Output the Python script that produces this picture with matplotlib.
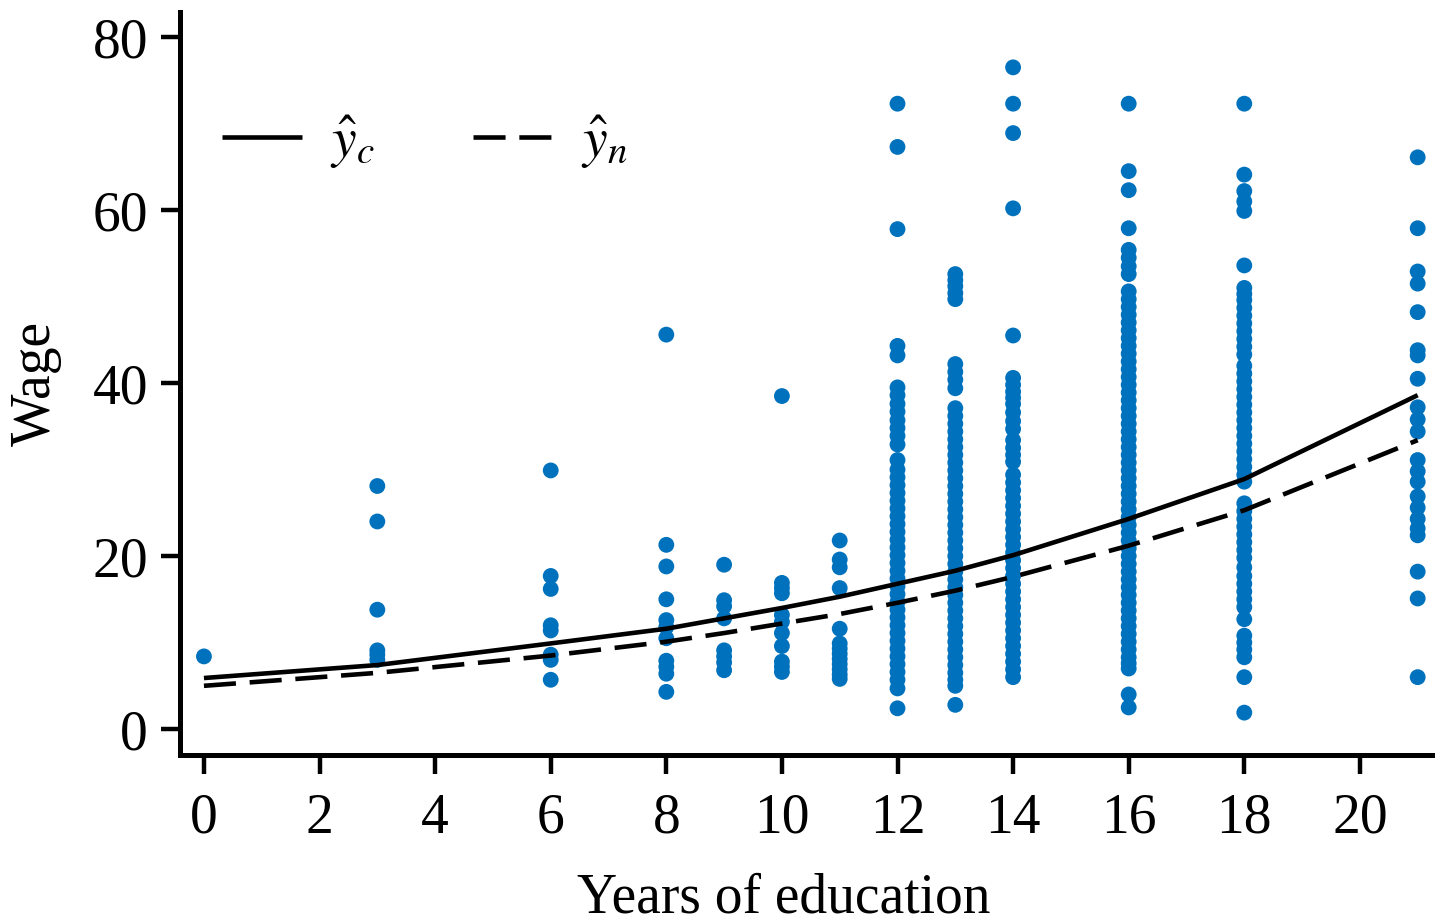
import matplotlib
matplotlib.use("Agg")
import matplotlib.pyplot as plt

plt.rcParams['font.family'] = ['Liberation Serif', 'DejaVu Serif']
plt.rcParams['mathtext.fontset'] = 'stix'

# ---- data ----
educ_levels = [0, 3, 6, 8, 9, 10, 11, 12, 13, 14, 16, 18, 21]

wage_0 = [8.4]
wage_3 = [28.1, 24.0, 13.8, 9.1, 8.6, 8.0]
wage_6 = [29.9, 17.7, 16.2, 12.0, 11.4, 8.6, 8.0, 5.7]
wage_8 = [45.6, 21.3, 18.8, 15.0, 12.6, 11.8, 10.5, 7.9, 7.2, 6.4, 4.3]
wage_9 = [19.0, 14.9, 14.2, 12.8, 9.1, 8.4, 7.7, 6.8]
wage_10 = [38.5, 16.9, 16.3, 15.7, 13.2, 12.4, 11.1, 9.6, 7.8, 7.2, 6.6]
wage_11 = [21.8, 19.6, 18.7, 16.3, 11.6, 9.9, 9.3, 8.7, 8.1, 7.5, 6.9, 6.3, 5.8]
wage_12 = [72.3, 67.3, 57.8, 44.3, 43.2, 39.5, 38.6, 37.6, 36.7, 35.7, 34.8, 33.9,
           32.9, 31.1, 30.0, 29.1, 28.2, 27.3, 26.4, 25.5, 24.6, 23.7, 22.8, 21.9,
           21.0, 20.1, 19.2, 18.3, 17.4, 16.5, 15.6, 14.7, 13.8, 12.9, 12.0, 11.1,
           10.2, 9.3, 8.4, 7.5, 6.6, 5.7, 4.7, 2.4]
wage_13 = [52.6, 51.9, 51.2, 50.4, 49.7, 42.2, 41.3, 40.4, 39.4, 37.1, 36.2, 35.3,
           34.4, 33.5, 32.6, 31.7, 30.8, 29.9, 29.0, 28.1, 27.2, 26.3, 25.4, 24.5,
           23.6, 22.7, 21.8, 20.9, 20.0, 19.1, 18.2, 17.3, 16.4, 15.5, 14.6, 13.7,
           12.8, 11.9, 11.0, 10.1, 9.2, 8.3, 7.4, 6.5, 5.7, 5.0, 2.8]
wage_14 = [76.5, 72.3, 68.9, 60.2, 45.5, 40.6, 39.8, 39.0, 38.3, 37.6, 36.6, 35.6,
           34.7, 33.4, 32.5, 31.7, 30.9, 29.4, 28.5, 27.6, 26.7, 25.8, 24.9, 24.0,
           23.1, 22.2, 21.3, 20.4, 19.5, 18.6, 17.7, 16.8, 15.9, 15.0, 14.1, 13.2,
           12.3, 11.4, 10.5, 9.6, 8.7, 7.8, 6.9, 6.0]
wage_16 = [72.3, 64.5, 62.3, 57.9, 55.4, 54.5, 53.5, 52.6, 50.6, 49.7, 48.8, 47.9,
           47.0, 46.1, 45.2, 44.3, 43.4, 42.5, 41.6, 40.7, 39.8, 38.9, 38.0, 37.1,
           36.2, 35.3, 34.4, 33.5, 32.6, 31.7, 30.8, 29.9, 29.0, 28.1, 27.2, 26.3,
           25.4, 24.5, 23.6, 22.7, 21.8, 20.9, 20.0, 19.1, 18.2, 17.3, 16.4, 15.5,
           14.6, 13.7, 12.8, 11.9, 11.0, 10.1, 9.2, 8.3, 7.6, 7.0, 4.0, 2.5]
wage_18 = [72.3, 64.1, 62.2, 61.0, 59.9, 53.6, 51.0, 50.3, 49.6, 48.7, 47.8, 46.9,
           46.0, 45.1, 44.2, 43.3, 42.0, 41.1, 40.2, 39.3, 38.4, 37.5, 36.6, 35.7,
           34.8, 33.9, 33.0, 32.1, 31.2, 30.3, 29.4, 28.6, 26.1, 25.2, 24.3, 23.4,
           22.5, 21.6, 20.7, 19.8, 18.7, 17.7, 16.8, 15.9, 15.0, 14.1, 12.7, 10.8,
           10.0, 9.2, 8.3, 6.0, 1.9]
wage_21 = [66.1, 57.9, 52.9, 51.5, 48.2, 43.8, 43.2, 40.5, 37.2, 35.8, 34.4, 31.1,
           29.8, 28.6, 26.9, 25.6, 24.3, 23.2, 22.4, 18.2, 15.1, 6.0]

yhat_c = [5.9, 7.4, 9.9, 11.6, 12.8, 14.0, 15.3, 16.8, 18.3, 20.1, 24.3, 28.9, 38.6]
yhat_n = [5.0, 6.5, 8.5, 10.1, 11.1, 12.2, 13.3, 14.6, 16.0, 17.6, 21.2, 25.3, 33.4]

x_ticks = [0, 2, 4, 6, 8, 10, 12, 14, 16, 18, 20]
y_ticks = [0, 20, 40, 60, 80]

wage_columns = [wage_0, wage_3, wage_6, wage_8, wage_9, wage_10, wage_11,
                wage_12, wage_13, wage_14, wage_16, wage_18, wage_21]

# ---- figure ----
fig = plt.figure(figsize=(14.35, 9.23), dpi=100)
ax = fig.add_axes([0.1254, 0.182, 0.8726, 0.805])

dot_color = '#0072BD'
for x, ws in zip(educ_levels, wage_columns):
    ax.scatter([x] * len(ws), ws, s=130, color=dot_color, edgecolors='none',
               zorder=2)

ax.plot(educ_levels, yhat_c, color='black', lw=3.3, label=r'$\hat{y}_c$',
        zorder=3, solid_capstyle='butt')
ax.plot(educ_levels, yhat_n, color='black', lw=3.3, ls=(0, (7, 3)),
        label=r'$\hat{y}_n$', zorder=3, dash_capstyle='butt')

ax.set_xlim(-0.415, 21.25)
ax.set_ylim(-3.0, 82.9)
ax.set_xticks(x_ticks)
ax.set_yticks(y_ticks)

ax.spines[['top', 'right']].set_visible(False)
for s in ['left', 'bottom']:
    ax.spines[s].set_linewidth(3.6)

ax.tick_params(width=3.2, length=14, labelsize=40, direction='out')
ax.tick_params(axis='x', pad=13)
ax.tick_params(axis='y', pad=9)

ax.set_xlabel('Years of education', fontsize=40)
ax.xaxis.set_label_coords(0.482, -0.158)
ax.set_ylabel('Wage', fontsize=40, labelpad=22)

leg = ax.legend(ncol=2, frameon=False, fontsize=40, loc='center left',
                bbox_to_anchor=(0.0335, 0.825), borderaxespad=0, borderpad=0,
                handlelength=1.45, columnspacing=1.75, handletextpad=0.5)

fig.savefig('out.png', dpi=100)
